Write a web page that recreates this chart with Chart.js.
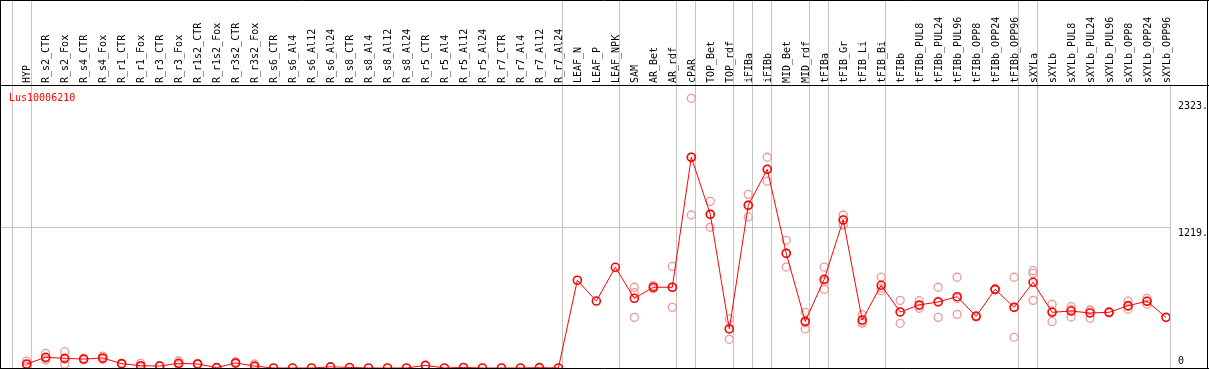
<html>
<head>
<script src="https://cdn.jsdelivr.net/npm/chart.js@4.4.0/dist/chart.umd.min.js"></script>
<style>
  body { margin: 0; background: white; overflow: hidden; }
  canvas { display: block; }
</style>
</head>
<body>
<canvas id="geneChart" width="1209" height="370"></canvas>

<script>
  // sample names, read left to right off the top axis
  var categories = [
    "HYP",
    "R_s2_CTR", "R_s2_Fox", "R_s4_CTR", "R_s4_Fox", "R_r1_CTR", "R_r1_Fox",
    "R_r3_CTR", "R_r3_Fox", "R_r1s2_CTR", "R_r1s2_Fox", "R_r3s2_CTR", "R_r3s2_Fox",
    "R_s6_CTR", "R_s6_Al4", "R_s6_Al12", "R_s6_Al24",
    "R_s8_CTR", "R_s8_Al4", "R_s8_Al12", "R_s8_Al24",
    "R_r5_CTR", "R_r5_Al4", "R_r5_Al12", "R_r5_Al24",
    "R_r7_CTR", "R_r7_Al4", "R_r7_Al12", "R_r7_Al24",
    "LEAF_N", "LEAF_P", "LEAF_NPK",
    "SAM", "AR_Bet", "AR_rdf",
    "cPAR",
    "TOP_Bet", "TOP_rdf",
    "iFIBa",
    "iFIBb",
    "MID_Bet", "MID_rdf",
    "tFIBa",
    "tFIB_Gr", "tFIB_Li", "tFIB_Bi",
    "tFIBb", "tFIBb_PUL8", "tFIBb_PUL24", "tFIBb_PUL96", "tFIBb_OPP8", "tFIBb_OPP24", "tFIBb_OPP96",
    "sXYLa",
    "sXYLb", "sXYLb_PUL8", "sXYLb_PUL24", "sXYLb_PUL96", "sXYLb_OPP8", "sXYLb_OPP24", "sXYLb_OPP96"
  ];

  // mean expression (the red line)
  var meanValues = [
    35,
    93, 84, 78, 87, 38, 20, 17, 41, 35, 3, 44, 17,
    0, 0, 0, 10,
    5, 0, 0, 0,
    23, 0, 5, 0,
    0, 0, 3, 0,
    764, 583, 877,
    607, 703, 703,
    1835,
    1338, 340,
    1416,
    1730,
    998, 406,
    772,
    1289, 418, 720,
    488, 549, 575, 621, 450, 685, 528,
    746,
    485, 496, 479, 485, 543, 581, 441
  ];

  // single replicates (pale circles), null where none shows
  var rep1 = [
    60,
    128, 142, 85, 104, 40, 41, 20, 61, 40, null, 55, 35,
    null, null, null, null, null, null, null, null, null, null, null, null, null, null, null, null,
    null, null, null,
    703, 717, 885,
    2348,
    1451, 427,
    1512,
    1835,
    1112, 485,
    879,
    1332, 464, 792,
    589, 586, 703, 790, 455, 690, 790,
    847,
    555, 534, 505, 490, 583, 607, null
  ];
  var rep2 = [
    30,
    70, 32, 72, 75, 35, 10, 15, 30, 30, null, 40, 10,
    null, null, null, null, null, null, null, null, null, null, null, null, null, null, null, null,
    null, null, null,
    656, 703, 528,
    1332,
    1225, 250,
    1315,
    1626,
    879, 340,
    685,
    1245, 389, 673,
    389, 520, 441, 467, 445, 680, 267,
    824,
    403, 444, 433, 480, 511, 555, null
  ];
  var rep3 = [
    15,
    82, 78, 78, 82, 38, 10, 17, 32, 35, null, 37, 6,
    null, null, null, null, null, null, null, null, null, null, null, null, null, null, null, null,
    null, null, null,
    441, 690, 703,
    1835,
    1338, 345,
    1420,
    1730,
    1003, 393,
    752,
    1290, 401, 695,
    486, 541, 581, 606, 450, 685, 527,
    589,
    497, 510, 499, 485, 535, 581, null
  ];

  // last sample of each tissue group, a grey rule is drawn after it
  var groupEnds = [-1, 0, 28, 31, 34, 35, 37, 38, 39, 41, 42, 45, 52, 53];

  var yTickValues = [0, 1219, 2323];
  var yTickLabels = ["0", "1219.", "2323."];
  var geneName = "Lus10006210";

  var monoFont = "'DejaVu Sans Mono', monospace";

  function toPoints(values) {
    return values.map(function (v, i) { return { x: i, y: v }; });
  }

  var framePlugin = {
    id: "frame",
    beforeDatasetsDraw: function (chart) {
      var ctx = chart.ctx, area = chart.chartArea, xs = chart.scales.x;
      ctx.save();
      ctx.strokeStyle = "#c4c4c4";
      ctx.lineWidth = 1;
      groupEnds.forEach(function (g) {
        var px = Math.round(xs.getPixelForValue(g + 0.21)) + 0.5;
        ctx.beginPath();
        ctx.moveTo(px, 0);
        ctx.lineTo(px, area.bottom);
        ctx.stroke();
      });
      ctx.restore();
    },
    afterDraw: function (chart) {
      var ctx = chart.ctx, area = chart.chartArea;
      var w = chart.width, h = chart.height;
      ctx.save();
      ctx.strokeStyle = "black";
      ctx.lineWidth = 1;
      ctx.beginPath();
      ctx.moveTo(0, 0.5); ctx.lineTo(w, 0.5);
      ctx.moveTo(0.5, 0); ctx.lineTo(0.5, area.bottom);
      ctx.moveTo(w - 1.5, 0); ctx.lineTo(w - 1.5, area.bottom);
      ctx.moveTo(0, area.top + 0.5); ctx.lineTo(w, area.top + 0.5);
      ctx.moveTo(0, area.bottom + 0.5); ctx.lineTo(w, area.bottom + 0.5);
      ctx.stroke();

      ctx.fillStyle = "red";
      ctx.font = "10px " + monoFont;
      ctx.textBaseline = "top";
      ctx.fillText(geneName, 9, area.top + 8);
      ctx.restore();
    }
  };

  var chartCtx = document.getElementById("geneChart");

  var geneChart = new Chart(chartCtx, {
    type: "line",
    data: {
      datasets: [
        {
          label: "mean",
          data: toPoints(meanValues),
          borderColor: "red",
          borderWidth: 1,
          pointRadius: 4,
          pointBorderWidth: 1.6,
          pointBorderColor: "red",
          pointBackgroundColor: "rgba(0,0,0,0)",
          tension: 0,
          fill: false
        },
        {
          label: "rep1",
          data: toPoints(rep1),
          showLine: false,
          pointRadius: 4,
          pointBorderWidth: 1.3,
          pointBorderColor: "#eb9a9a",
          pointBackgroundColor: "rgba(0,0,0,0)"
        },
        {
          label: "rep2",
          data: toPoints(rep2),
          showLine: false,
          pointRadius: 4,
          pointBorderWidth: 1.3,
          pointBorderColor: "#eb9a9a",
          pointBackgroundColor: "rgba(0,0,0,0)"
        },
        {
          label: "rep3",
          data: toPoints(rep3),
          showLine: false,
          pointRadius: 4,
          pointBorderWidth: 1.3,
          pointBorderColor: "#eb9a9a",
          pointBackgroundColor: "rgba(0,0,0,0)"
        }
      ]
    },
    options: {
      responsive: false,
      animation: false,
      layout: { autoPadding: false, padding: { left: 0, right: 0, top: 0, bottom: 2 } },
      plugins: {
        legend: { display: false },
        tooltip: { enabled: false }
      },
      scales: {
        x: {
          type: "linear",
          position: "top",
          min: -1.406,
          max: 60.21,
          grid: { display: false, drawTicks: false },
          border: { display: false },
          afterBuildTicks: function (scale) {
            scale.ticks = categories.map(function (c, i) { return { value: i }; });
          },
          afterFit: function (scale) {
            scale.height = 85;
            scale.paddingLeft = 0;
            scale.paddingRight = 0;
          },
          ticks: {
            autoSkip: false,
            minRotation: 90,
            maxRotation: 90,
            padding: 2,
            labelOffset: 13,
            color: "black",
            font: { family: monoFont, size: 10 },
            callback: function (value) { return categories[value]; }
          }
        },
        y: {
          type: "linear",
          position: "right",
          min: 0,
          max: 2464,
          grid: {
            drawTicks: false,
            color: function (c) {
              return c.tick && c.tick.value === 1219 ? "#c4c4c4" : "rgba(0,0,0,0)";
            }
          },
          border: { display: true, color: "#c4c4c4" },
          afterBuildTicks: function (scale) {
            scale.ticks = yTickValues.map(function (v) { return { value: v }; });
          },
          afterFit: function (scale) {
            scale.width = 39;
            scale.paddingTop = 0;
            scale.paddingBottom = 0;
          },
          ticks: {
            align: "start",
            padding: 8,
            color: "black",
            font: { family: monoFont, size: 10 },
            callback: function (value) {
              var label = yTickLabels[yTickValues.indexOf(value)];
              // the bottom label sits above the frame, as in the original
              return value === 0 ? [label, "", ""] : label;
            }
          }
        }
      }
    },
    plugins: [framePlugin]
  });
</script>
</body>
</html>
